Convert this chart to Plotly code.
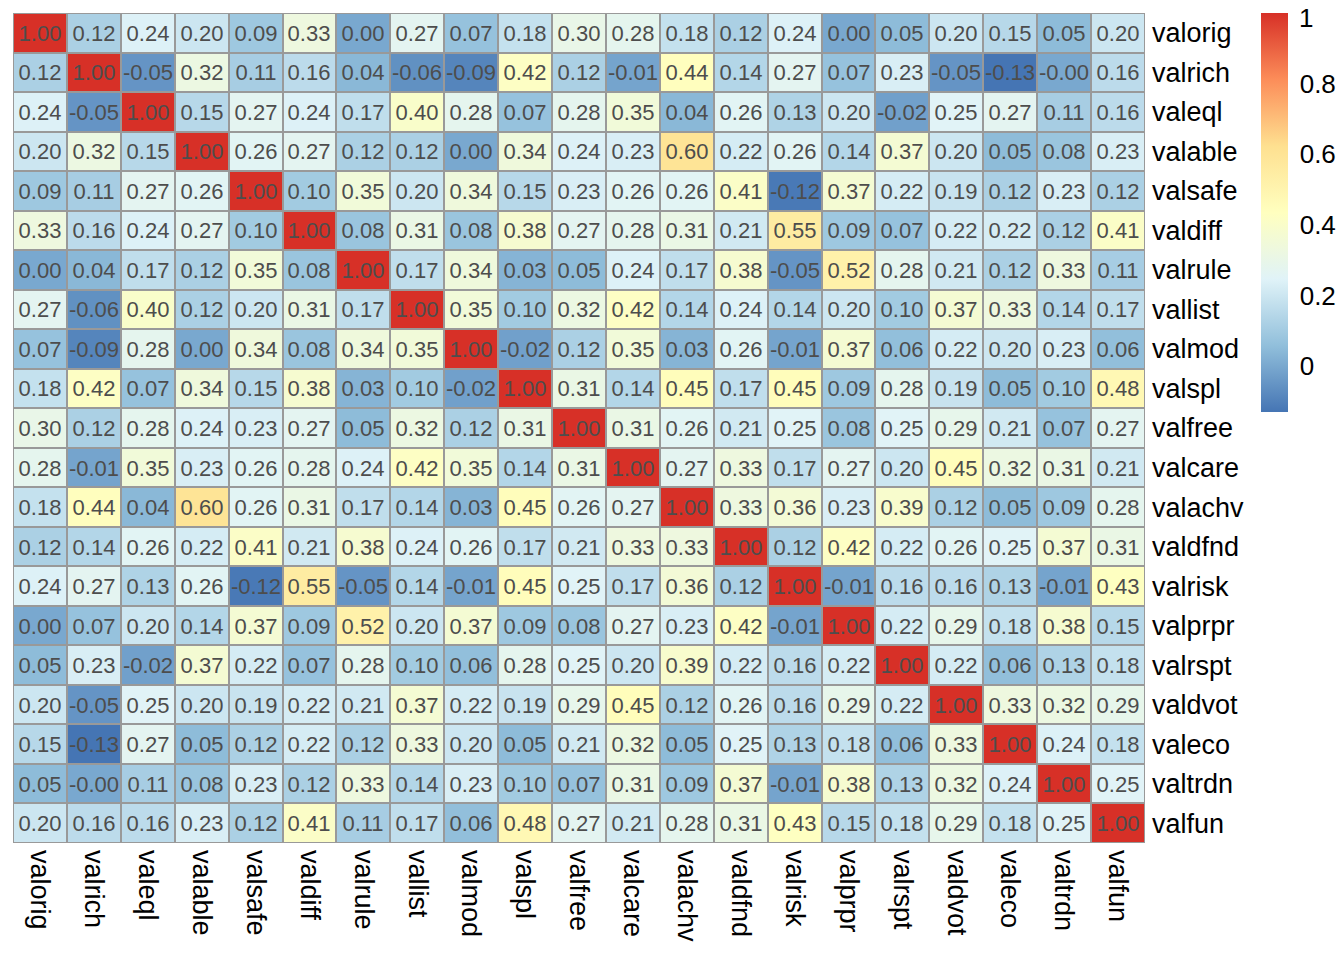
import plotly.graph_objects as go

labels = ['valorig', 'valrich', 'valeql', 'valable', 'valsafe', 'valdiff', 'valrule',
          'vallist', 'valmod', 'valspl', 'valfree', 'valcare', 'valachv', 'valdfnd',
          'valrisk', 'valprpr', 'valrspt', 'valdvot', 'valeco', 'valtrdn', 'valfun']

corr = [
    [1.00, 0.12, 0.24, 0.20, 0.09, 0.33, 0.00, 0.27, 0.07, 0.18, 0.30, 0.28, 0.18, 0.12, 0.24, 0.00, 0.05, 0.20, 0.15, 0.05, 0.20],
    [0.12, 1.00, -0.05, 0.32, 0.11, 0.16, 0.04, -0.06, -0.09, 0.42, 0.12, -0.01, 0.44, 0.14, 0.27, 0.07, 0.23, -0.05, -0.13, -0.0, 0.16],
    [0.24, -0.05, 1.00, 0.15, 0.27, 0.24, 0.17, 0.40, 0.28, 0.07, 0.28, 0.35, 0.04, 0.26, 0.13, 0.20, -0.02, 0.25, 0.27, 0.11, 0.16],
    [0.20, 0.32, 0.15, 1.00, 0.26, 0.27, 0.12, 0.12, 0.00, 0.34, 0.24, 0.23, 0.60, 0.22, 0.26, 0.14, 0.37, 0.20, 0.05, 0.08, 0.23],
    [0.09, 0.11, 0.27, 0.26, 1.00, 0.10, 0.35, 0.20, 0.34, 0.15, 0.23, 0.26, 0.26, 0.41, -0.12, 0.37, 0.22, 0.19, 0.12, 0.23, 0.12],
    [0.33, 0.16, 0.24, 0.27, 0.10, 1.00, 0.08, 0.31, 0.08, 0.38, 0.27, 0.28, 0.31, 0.21, 0.55, 0.09, 0.07, 0.22, 0.22, 0.12, 0.41],
    [0.00, 0.04, 0.17, 0.12, 0.35, 0.08, 1.00, 0.17, 0.34, 0.03, 0.05, 0.24, 0.17, 0.38, -0.05, 0.52, 0.28, 0.21, 0.12, 0.33, 0.11],
    [0.27, -0.06, 0.40, 0.12, 0.20, 0.31, 0.17, 1.00, 0.35, 0.10, 0.32, 0.42, 0.14, 0.24, 0.14, 0.20, 0.10, 0.37, 0.33, 0.14, 0.17],
    [0.07, -0.09, 0.28, 0.00, 0.34, 0.08, 0.34, 0.35, 1.00, -0.02, 0.12, 0.35, 0.03, 0.26, -0.01, 0.37, 0.06, 0.22, 0.20, 0.23, 0.06],
    [0.18, 0.42, 0.07, 0.34, 0.15, 0.38, 0.03, 0.10, -0.02, 1.00, 0.31, 0.14, 0.45, 0.17, 0.45, 0.09, 0.28, 0.19, 0.05, 0.10, 0.48],
    [0.30, 0.12, 0.28, 0.24, 0.23, 0.27, 0.05, 0.32, 0.12, 0.31, 1.00, 0.31, 0.26, 0.21, 0.25, 0.08, 0.25, 0.29, 0.21, 0.07, 0.27],
    [0.28, -0.01, 0.35, 0.23, 0.26, 0.28, 0.24, 0.42, 0.35, 0.14, 0.31, 1.00, 0.27, 0.33, 0.17, 0.27, 0.20, 0.45, 0.32, 0.31, 0.21],
    [0.18, 0.44, 0.04, 0.60, 0.26, 0.31, 0.17, 0.14, 0.03, 0.45, 0.26, 0.27, 1.00, 0.33, 0.36, 0.23, 0.39, 0.12, 0.05, 0.09, 0.28],
    [0.12, 0.14, 0.26, 0.22, 0.41, 0.21, 0.38, 0.24, 0.26, 0.17, 0.21, 0.33, 0.33, 1.00, 0.12, 0.42, 0.22, 0.26, 0.25, 0.37, 0.31],
    [0.24, 0.27, 0.13, 0.26, -0.12, 0.55, -0.05, 0.14, -0.01, 0.45, 0.25, 0.17, 0.36, 0.12, 1.00, -0.01, 0.16, 0.16, 0.13, -0.01, 0.43],
    [0.00, 0.07, 0.20, 0.14, 0.37, 0.09, 0.52, 0.20, 0.37, 0.09, 0.08, 0.27, 0.23, 0.42, -0.01, 1.00, 0.22, 0.29, 0.18, 0.38, 0.15],
    [0.05, 0.23, -0.02, 0.37, 0.22, 0.07, 0.28, 0.10, 0.06, 0.28, 0.25, 0.20, 0.39, 0.22, 0.16, 0.22, 1.00, 0.22, 0.06, 0.13, 0.18],
    [0.20, -0.05, 0.25, 0.20, 0.19, 0.22, 0.21, 0.37, 0.22, 0.19, 0.29, 0.45, 0.12, 0.26, 0.16, 0.29, 0.22, 1.00, 0.33, 0.32, 0.29],
    [0.15, -0.13, 0.27, 0.05, 0.12, 0.22, 0.12, 0.33, 0.20, 0.05, 0.21, 0.32, 0.05, 0.25, 0.13, 0.18, 0.06, 0.33, 1.00, 0.24, 0.18],
    [0.05, -0.0, 0.11, 0.08, 0.23, 0.12, 0.33, 0.14, 0.23, 0.10, 0.07, 0.31, 0.09, 0.37, -0.01, 0.38, 0.13, 0.32, 0.24, 1.00, 0.25],
    [0.20, 0.16, 0.16, 0.23, 0.12, 0.41, 0.11, 0.17, 0.06, 0.48, 0.27, 0.21, 0.28, 0.31, 0.43, 0.15, 0.18, 0.29, 0.18, 0.25, 1.00],
]

cbar_ticks = [0, 0.2, 0.4, 0.6, 0.8, 1]
# the top label "1" is drawn as an annotation so it isn't clipped at the page edge
cbar_ticktext = ['0', '0.2', '0.4', '0.6', '0.8', '']
cbar_top_label = '1'

# reversed RdYlBu(7), like pheatmap's default palette
palette = ['#4575B4', '#91BFDB', '#E0F3F8', '#FFFFBF', '#FEE090', '#FC8D59', '#D73027']
colorscale = [[i / (len(palette) - 1), c] for i, c in enumerate(palette)]

text = [[f'{v:.2f}' for v in row] for row in corr]
flat = [v for row in corr for v in row]

fig = go.Figure(go.Heatmap(
    z=corr, x=labels, y=labels, text=text, texttemplate='%{text}',
    textfont=dict(size=22, color='#4D4D4D', family='Liberation Sans, Arial'),
    colorscale=colorscale, zmin=min(flat), zmax=max(flat),
    xgap=2, ygap=2,
    colorbar=dict(
        tickvals=cbar_ticks, ticktext=cbar_ticktext,
        thickness=27, len=399 / 830, lenmode='fraction',
        x=(1261 - 13) / 1132, xanchor='left', y=1.0, yanchor='top',
        xpad=0, ypad=0,
        outlinewidth=0, ticks='outside', ticklen=7, tickcolor='rgba(0,0,0,0)',
        tickfont=dict(size=26, color='black', family='Liberation Sans, Arial'),
    ),
))

fig.add_annotation(
    text=cbar_top_label, xref='paper', yref='paper',
    x=(1297 - 13) / 1132, y=1 + 12 / 830, xanchor='left', yanchor='top',
    showarrow=False, font=dict(size=26, color='black', family='Liberation Sans, Arial'),
)

fig.update_xaxes(side='bottom', tickangle=90, showgrid=False, zeroline=False, automargin=False,
                 ticks='', ticklen=0, ticklabelstandoff=6, tickfont=dict(size=27, color='black'))
fig.update_yaxes(side='right', autorange='reversed', showgrid=False, zeroline=False, automargin=False,
                 ticks='', ticklabelstandoff=6, tickfont=dict(size=27, color='black'))

fig.update_layout(
    width=1344, height=960,
    margin=dict(l=13, r=199, t=13, b=117, autoexpand=False),
    plot_bgcolor='#999999', paper_bgcolor='white',
    font=dict(family='Liberation Sans, Arial', color='black'),
)

# drop the page's default 8px body margin so the figure sits at the corner
fig.write_html('out.html', config={'displayModeBar': False},
               post_script="document.body.style.margin = '0';")
